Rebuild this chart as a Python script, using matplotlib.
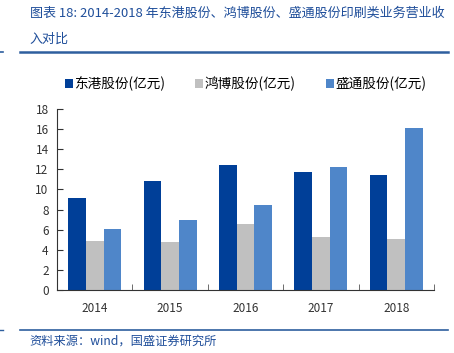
import matplotlib
matplotlib.use('Agg')
import matplotlib.pyplot as plt
import numpy as np

plt.rcParams['font.family'] = ['Noto Sans CJK SC', 'DejaVu Sans']

years = ['2014', '2015', '2016', '2017', '2018']
dongguang = [9.1, 10.8, 12.4, 11.7, 11.4]
hongbo = [4.9, 4.8, 6.6, 5.3, 5.1]
shengtong = [6.1, 7.0, 8.5, 12.2, 16.1]
labels = ['东港股份(亿元)', '鸿博股份(亿元)', '盛通股份(亿元)']
colors = ['#003F98', '#C0C0C0', '#4F86C9']

fig = plt.figure(figsize=(4.54, 3.53), dpi=100)
ax = fig.add_axes([57/454, 1-290/353, (434-57)/454, 181/353])

x = np.arange(len(years))
w = 0.235
for i, (vals, lab, c) in enumerate(zip([dongguang, hongbo, shengtong], labels, colors)):
    ax.bar(x + (i-1)*w, vals, w, color=c, label=lab)

ax.set_xlim(-0.5, 4.5)
ax.set_ylim(0, 18)
ax.set_yticks(range(0, 19, 2))
ax.set_xticks(x)
ax.set_xticklabels(years)
ax.set_xticks(np.arange(-0.5, 5, 1), minor=True)
ax.tick_params(axis='x', which='major', length=0, labelsize=8.5, colors='#333333', pad=9)
ax.tick_params(axis='x', which='minor', direction='in', length=4, color='#555555')
ax.tick_params(axis='y', direction='in', length=4, labelsize=8.5, colors='#333333', pad=6)
for s in ['top', 'right']:
    ax.spines[s].set_visible(False)
ax.spines['left'].set_color('#333333')
ax.spines['bottom'].set_color('#333333')

leg = ax.legend(loc='upper center', bbox_to_anchor=(0.5, 1.245), ncol=3, frameon=False,
                fontsize=9.8, handlelength=0.6, handleheight=0.6, handletextpad=0.1,
                columnspacing=2.2)

fig.text(0.065, 0.962, '图表 18: 2014-2018 年东港股份、鸿博股份、盛通股份印刷类业务营业收',
         color='#1F4E9A', fontsize=9.4, style='italic', va='center')
fig.text(0.065, 0.888, '入对比', color='#1F4E9A', fontsize=9.4, style='italic', va='center')
fig.add_artist(plt.Line2D([20/454, 448/454], [1-52/353, 1-52/353], color='#2E5F9E', lw=1.8))
fig.add_artist(plt.Line2D([0, 3/454], [1-52/353, 1-52/353], color='#2E5F9E', lw=1.2))
fig.add_artist(plt.Line2D([20/454, 448/454], [1-330/353, 1-330/353], color='#2E5F9E', lw=1.2))
fig.add_artist(plt.Line2D([0, 3/454], [1-330/353, 1-330/353], color='#2E5F9E', lw=1.0))
fig.text(0.065, 1-341/353, '资料来源：wind，国盛证券研究所', color='#1F4E9A', fontsize=8.8,
         style='italic', va='center')

fig.savefig('out.png', dpi=100)
